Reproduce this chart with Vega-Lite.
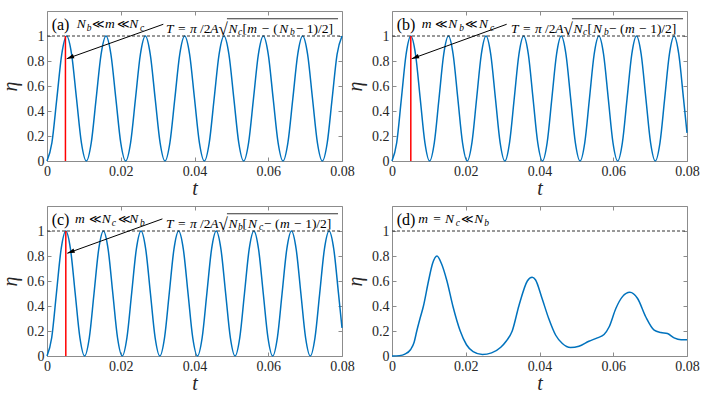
{
  "$schema": "https://vega.github.io/schema/vega-lite/v6.json",
  "padding": {"left": 0, "top": 10, "right": 5, "bottom": 5},
  "background": "white",
  "columns": 2,
  "spacing": {"row": 45, "column": 50},
  "bounds": "flush",
  "datasets": {
    "frame": [{"x": 0, "x2": 0.08, "y": 1}],
    "sinA": [
      {"t":0,"v":0},{"t":0.00133,"v":0.146},{"t":0.00267,"v":0.5},{"t":0.004,"v":0.854},{"t":0.00533,"v":1},{"t":0.00667,"v":0.854},{"t":0.008,"v":0.5},{"t":0.00933,"v":0.146},
      {"t":0.01067,"v":0},{"t":0.012,"v":0.146},{"t":0.01333,"v":0.5},{"t":0.01467,"v":0.854},{"t":0.016,"v":1},{"t":0.01733,"v":0.854},{"t":0.01867,"v":0.5},{"t":0.02,"v":0.146},
      {"t":0.02133,"v":0},{"t":0.02267,"v":0.146},{"t":0.024,"v":0.5},{"t":0.02533,"v":0.854},{"t":0.02667,"v":1},{"t":0.028,"v":0.854},{"t":0.02933,"v":0.5},{"t":0.03067,"v":0.146},
      {"t":0.032,"v":0},{"t":0.03333,"v":0.146},{"t":0.03467,"v":0.5},{"t":0.036,"v":0.854},{"t":0.03733,"v":1},{"t":0.03867,"v":0.854},{"t":0.04,"v":0.5},{"t":0.04133,"v":0.146},
      {"t":0.04267,"v":0},{"t":0.044,"v":0.146},{"t":0.04533,"v":0.5},{"t":0.04667,"v":0.854},{"t":0.048,"v":1},{"t":0.04933,"v":0.854},{"t":0.05067,"v":0.5},{"t":0.052,"v":0.146},
      {"t":0.05333,"v":0},{"t":0.05467,"v":0.146},{"t":0.056,"v":0.5},{"t":0.05733,"v":0.854},{"t":0.05867,"v":1},{"t":0.06,"v":0.854},{"t":0.06133,"v":0.5},{"t":0.06267,"v":0.146},
      {"t":0.064,"v":0},{"t":0.06533,"v":0.146},{"t":0.06667,"v":0.5},{"t":0.068,"v":0.854},{"t":0.06933,"v":1},{"t":0.07067,"v":0.854},{"t":0.072,"v":0.5},{"t":0.07333,"v":0.146},
      {"t":0.07467,"v":0},{"t":0.076,"v":0.146},{"t":0.07733,"v":0.5},{"t":0.07867,"v":0.854},{"t":0.08,"v":1}
    ],
    "sinB": [
      {"t":0,"v":0},{"t":0.001275,"v":0.146},{"t":0.00255,"v":0.5},{"t":0.003825,"v":0.854},{"t":0.0051,"v":1},{"t":0.006375,"v":0.854},{"t":0.00765,"v":0.5},{"t":0.008925,"v":0.146},
      {"t":0.0102,"v":0},{"t":0.011475,"v":0.146},{"t":0.01275,"v":0.5},{"t":0.014025,"v":0.854},{"t":0.0153,"v":1},{"t":0.016575,"v":0.854},{"t":0.01785,"v":0.5},{"t":0.019125,"v":0.146},
      {"t":0.0204,"v":0},{"t":0.021675,"v":0.146},{"t":0.02295,"v":0.5},{"t":0.024225,"v":0.854},{"t":0.0255,"v":1},{"t":0.026775,"v":0.854},{"t":0.02805,"v":0.5},{"t":0.029325,"v":0.146},
      {"t":0.0306,"v":0},{"t":0.031875,"v":0.146},{"t":0.03315,"v":0.5},{"t":0.034425,"v":0.854},{"t":0.0357,"v":1},{"t":0.036975,"v":0.854},{"t":0.03825,"v":0.5},{"t":0.039525,"v":0.146},
      {"t":0.0408,"v":0},{"t":0.042075,"v":0.146},{"t":0.04335,"v":0.5},{"t":0.044625,"v":0.854},{"t":0.0459,"v":1},{"t":0.047175,"v":0.854},{"t":0.04845,"v":0.5},{"t":0.049725,"v":0.146},
      {"t":0.051,"v":0},{"t":0.052275,"v":0.146},{"t":0.05355,"v":0.5},{"t":0.054825,"v":0.854},{"t":0.0561,"v":1},{"t":0.057375,"v":0.854},{"t":0.05865,"v":0.5},{"t":0.059925,"v":0.146},
      {"t":0.0612,"v":0},{"t":0.062475,"v":0.146},{"t":0.06375,"v":0.5},{"t":0.065025,"v":0.854},{"t":0.0663,"v":1},{"t":0.067575,"v":0.854},{"t":0.06885,"v":0.5},{"t":0.070125,"v":0.146},
      {"t":0.0714,"v":0},{"t":0.072675,"v":0.146},{"t":0.07395,"v":0.5},{"t":0.075225,"v":0.854},{"t":0.0765,"v":1},{"t":0.077775,"v":0.854},{"t":0.07905,"v":0.5},{"t":0.08,"v":0.225}
    ],
    "curveD": [
      {"t":0,"v":0},{"t":0.002,"v":0.003},{"t":0.0035,"v":0.015},{"t":0.005,"v":0.05},{"t":0.006,"v":0.11},{"t":0.00672,"v":0.2},{"t":0.0076,"v":0.3},{"t":0.00853,"v":0.4},
      {"t":0.0099,"v":0.6},{"t":0.011,"v":0.74},{"t":0.0122,"v":0.8},{"t":0.0134,"v":0.74},{"t":0.0149,"v":0.6},{"t":0.0165,"v":0.4},{"t":0.0185,"v":0.2},{"t":0.0202,"v":0.09},
      {"t":0.022,"v":0.035},{"t":0.0245,"v":0.012},{"t":0.027,"v":0.025},{"t":0.0295,"v":0.07},{"t":0.031,"v":0.12},{"t":0.0326,"v":0.2},{"t":0.0344,"v":0.4},{"t":0.0367,"v":0.6},
      {"t":0.038,"v":0.63},{"t":0.0389,"v":0.61},{"t":0.0407,"v":0.46},{"t":0.0425,"v":0.3},{"t":0.0444,"v":0.166},{"t":0.0462,"v":0.1},{"t":0.0484,"v":0.068},{"t":0.0507,"v":0.078},
      {"t":0.0534,"v":0.118},{"t":0.0557,"v":0.145},{"t":0.0575,"v":0.172},{"t":0.0589,"v":0.234},{"t":0.0607,"v":0.38},{"t":0.0625,"v":0.475},{"t":0.0645,"v":0.51},{"t":0.0666,"v":0.46},
      {"t":0.0688,"v":0.314},{"t":0.0711,"v":0.207},{"t":0.0729,"v":0.188},{"t":0.0747,"v":0.18},{"t":0.0765,"v":0.145},{"t":0.0784,"v":0.13},{"t":0.08,"v":0.13}
    ]
  },
  "concat": [
    {
      "width": 295, "height": 150,
      "resolve": {"axis": {"x": "independent", "y": "independent"}},
      "layer": [
        {"data": {"name": "sinA"}, "mark": {"type": "line", "color": "#0072BD", "strokeWidth": 1.5, "interpolate": "monotone"},
         "encoding": {
           "x": {"field": "t", "type": "quantitative", "scale": {"domain": [0, 0.08], "nice": false, "zero": false}, "axis": {"orient": "bottom", "title": "t", "values": [0, 0.02, 0.04, 0.06, 0.08], "format": "~g", "titlePadding": 0}},
           "y": {"field": "v", "type": "quantitative", "scale": {"domain": [0, 1.2], "nice": false}, "axis": {"orient": "left", "title": "η", "values": [0, 0.2, 0.4, 0.6, 0.8, 1], "format": "~g", "titlePadding": 6}}}},
        {"data": {"name": "frame"}, "mark": {"type": "rule", "color": "#333333", "strokeDash": [3, 2], "strokeWidth": 1},
         "encoding": {
           "x": {"field": "x", "type": "quantitative", "axis": {"orient": "top", "labels": false, "title": null, "values": [0, 0.02, 0.04, 0.06, 0.08]}},
           "x2": {"field": "x2"},
           "y": {"field": "y", "type": "quantitative", "axis": {"orient": "right", "labels": false, "title": null, "values": [0, 0.2, 0.4, 0.6, 0.8, 1]}}}},
        {"data": {"values": [{"x": 0.005, "y": 0, "y2": 1}]}, "mark": {"type": "rule", "color": "#ff0000", "strokeWidth": 1.5},
         "encoding": {"x": {"field": "x", "type": "quantitative", "axis": null}, "y": {"field": "y", "type": "quantitative", "axis": null}, "y2": {"field": "y2"}}},
        {"data": {"values": [{"x": 0.03154, "y": 1.094, "x2": 0.00534, "y2": 0.818}]}, "mark": {"type": "rule", "color": "#000000", "strokeWidth": 1},
         "encoding": {"x": {"field": "x", "type": "quantitative", "axis": null}, "y": {"field": "y", "type": "quantitative", "axis": null}, "x2": {"field": "x2"}, "y2": {"field": "y2"}}},
        {"data": {"values": [{"x": 0.00534, "y": 0.818}]}, "mark": {"type": "point", "shape": "M0,0L-0.3,1L0.3,1Z", "filled": true, "color": "#000000", "opacity": 1, "size": 220, "angle": 250},
         "encoding": {"x": {"field": "x", "type": "quantitative", "axis": null}, "y": {"field": "y", "type": "quantitative", "axis": null}}},
        {"data": {"values": [{"x": 0.0488, "x2": 0.07892, "y": 1.138}]}, "mark": {"type": "rule", "color": "#000000", "strokeWidth": 0.8},
         "encoding": {"x": {"field": "x", "type": "quantitative", "axis": null}, "y": {"field": "y", "type": "quantitative", "axis": null}, "x2": {"field": "x2"}}},
        {"data": {"values": [{"x": 0.00127, "y": 1.048, "s": "(a)"}]}, "mark": {"type": "text", "align": "left", "baseline": "alphabetic", "font": "Liberation Serif, Times New Roman, serif", "fontSize": 16, "color": "#000000"},
         "encoding": {"x": {"field": "x", "type": "quantitative", "axis": null}, "y": {"field": "y", "type": "quantitative", "axis": null}, "text": {"field": "s"}}},
        {"data": {"values": [
           {"x": 0.00805, "y": 1.064, "s": "N"}, {"x": 0.01573, "y": 1.064, "s": "m"}, {"x": 0.02232, "y": 1.064, "s": "N"},
           {"x": 0.03227, "y": 1.026, "s": "T"}, {"x": 0.03878, "y": 1.026, "s": "π"}, {"x": 0.0443, "y": 1.026, "s": "A"},
           {"x": 0.0492, "y": 1.026, "s": "N"}, {"x": 0.05432, "y": 1.026, "s": "m"}, {"x": 0.063, "y": 1.026, "s": "N"}]},
         "mark": {"type": "text", "align": "left", "baseline": "alphabetic", "font": "Liberation Serif, Times New Roman, serif", "fontStyle": "italic", "fontSize": 13.5, "color": "#000000"},
         "encoding": {"x": {"field": "x", "type": "quantitative", "axis": null}, "y": {"field": "y", "type": "quantitative", "axis": null}, "text": {"field": "s"}}},
        {"data": {"values": [
           {"x": 0.03553, "y": 1.026, "s": "="}, {"x": 0.04149, "y": 1.026, "s": "/2"}, {"x": 0.053, "y": 1.026, "s": "["},
           {"x": 0.05822, "y": 1.026, "s": "−"}, {"x": 0.06137, "y": 1.026, "s": "("}, {"x": 0.06753, "y": 1.026, "s": "−"}, {"x": 0.07043, "y": 1.026, "s": "1)/2]"}]},
         "mark": {"type": "text", "align": "left", "baseline": "alphabetic", "font": "Liberation Serif, Times New Roman, serif", "fontSize": 13.5, "color": "#000000"},
         "encoding": {"x": {"field": "x", "type": "quantitative", "axis": null}, "y": {"field": "y", "type": "quantitative", "axis": null}, "text": {"field": "s"}}},
        {"data": {"values": [{"x": 0.01222, "y": 1.064, "s": "≪"}, {"x": 0.019, "y": 1.064, "s": "≪"}]},
         "mark": {"type": "text", "align": "left", "baseline": "alphabetic", "font": "Liberation Serif, DejaVu Serif, serif", "fontSize": 12, "color": "#000000"},
         "encoding": {"x": {"field": "x", "type": "quantitative", "axis": null}, "y": {"field": "y", "type": "quantitative", "axis": null}, "text": {"field": "s"}}},
        {"data": {"values": [
           {"x": 0.01077, "y": 1.044, "s": "b"}, {"x": 0.02522, "y": 1.044, "s": "c"},
           {"x": 0.0518, "y": 1.008, "s": "c"}, {"x": 0.0659, "y": 1.008, "s": "b"}]},
         "mark": {"type": "text", "align": "left", "baseline": "alphabetic", "font": "Liberation Serif, Times New Roman, serif", "fontStyle": "italic", "fontSize": 9.5, "color": "#000000"},
         "encoding": {"x": {"field": "x", "type": "quantitative", "axis": null}, "y": {"field": "y", "type": "quantitative", "axis": null}, "text": {"field": "s"}}},
        {"data": {"values": [{"x": 0.0465, "y": 1.012, "s": "√"}]},
         "mark": {"type": "text", "align": "left", "baseline": "alphabetic", "font": "Liberation Serif, Times New Roman, serif", "fontSize": 17, "color": "#000000"},
         "encoding": {"x": {"field": "x", "type": "quantitative", "axis": null}, "y": {"field": "y", "type": "quantitative", "axis": null}, "text": {"field": "s"}}}
      ]
    },
    {
      "width": 295, "height": 150,
      "resolve": {"axis": {"x": "independent", "y": "independent"}},
      "layer": [
        {"data": {"name": "sinB"}, "mark": {"type": "line", "color": "#0072BD", "strokeWidth": 1.5, "interpolate": "monotone"},
         "encoding": {
           "x": {"field": "t", "type": "quantitative", "scale": {"domain": [0, 0.08], "nice": false, "zero": false}, "axis": {"orient": "bottom", "title": "t", "values": [0, 0.02, 0.04, 0.06, 0.08], "format": "~g", "titlePadding": 0}},
           "y": {"field": "v", "type": "quantitative", "scale": {"domain": [0, 1.2], "nice": false}, "axis": {"orient": "left", "title": "η", "values": [0, 0.2, 0.4, 0.6, 0.8, 1], "format": "~g", "titlePadding": 6}}}},
        {"data": {"name": "frame"}, "mark": {"type": "rule", "color": "#333333", "strokeDash": [3, 2], "strokeWidth": 1},
         "encoding": {
           "x": {"field": "x", "type": "quantitative", "axis": {"orient": "top", "labels": false, "title": null, "values": [0, 0.02, 0.04, 0.06, 0.08]}},
           "x2": {"field": "x2"},
           "y": {"field": "y", "type": "quantitative", "axis": {"orient": "right", "labels": false, "title": null, "values": [0, 0.2, 0.4, 0.6, 0.8, 1]}}}},
        {"data": {"values": [{"x": 0.0051, "y": 0, "y2": 1}]}, "mark": {"type": "rule", "color": "#ff0000", "strokeWidth": 1.5},
         "encoding": {"x": {"field": "x", "type": "quantitative", "axis": null}, "y": {"field": "y", "type": "quantitative", "axis": null}, "y2": {"field": "y2"}}},
        {"data": {"values": [{"x": 0.0311, "y": 1.094, "x2": 0.00534, "y2": 0.818}]}, "mark": {"type": "rule", "color": "#000000", "strokeWidth": 1},
         "encoding": {"x": {"field": "x", "type": "quantitative", "axis": null}, "y": {"field": "y", "type": "quantitative", "axis": null}, "x2": {"field": "x2"}, "y2": {"field": "y2"}}},
        {"data": {"values": [{"x": 0.00534, "y": 0.818}]}, "mark": {"type": "point", "shape": "M0,0L-0.3,1L0.3,1Z", "filled": true, "color": "#000000", "opacity": 1, "size": 220, "angle": 250},
         "encoding": {"x": {"field": "x", "type": "quantitative", "axis": null}, "y": {"field": "y", "type": "quantitative", "axis": null}}},
        {"data": {"values": [{"x": 0.0488, "x2": 0.07892, "y": 1.138}]}, "mark": {"type": "rule", "color": "#000000", "strokeWidth": 0.8},
         "encoding": {"x": {"field": "x", "type": "quantitative", "axis": null}, "y": {"field": "y", "type": "quantitative", "axis": null}, "x2": {"field": "x2"}}},
        {"data": {"values": [{"x": 0.00127, "y": 1.048, "s": "(b)"}]}, "mark": {"type": "text", "align": "left", "baseline": "alphabetic", "font": "Liberation Serif, Times New Roman, serif", "fontSize": 16, "color": "#000000"},
         "encoding": {"x": {"field": "x", "type": "quantitative", "axis": null}, "y": {"field": "y", "type": "quantitative", "axis": null}, "text": {"field": "s"}}},
        {"data": {"values": [
           {"x": 0.00805, "y": 1.064, "s": "m"}, {"x": 0.01527, "y": 1.064, "s": "N"}, {"x": 0.02359, "y": 1.064, "s": "N"},
           {"x": 0.03227, "y": 1.026, "s": "T"}, {"x": 0.03878, "y": 1.026, "s": "π"}, {"x": 0.0443, "y": 1.026, "s": "A"},
           {"x": 0.0492, "y": 1.026, "s": "N"}, {"x": 0.05452, "y": 1.026, "s": "N"}, {"x": 0.06319, "y": 1.026, "s": "m"}]},
         "mark": {"type": "text", "align": "left", "baseline": "alphabetic", "font": "Liberation Serif, Times New Roman, serif", "fontStyle": "italic", "fontSize": 13.5, "color": "#000000"},
         "encoding": {"x": {"field": "x", "type": "quantitative", "axis": null}, "y": {"field": "y", "type": "quantitative", "axis": null}, "text": {"field": "s"}}},
        {"data": {"values": [
           {"x": 0.03553, "y": 1.026, "s": "="}, {"x": 0.04149, "y": 1.026, "s": "/2"}, {"x": 0.053, "y": 1.026, "s": "["},
           {"x": 0.05885, "y": 1.026, "s": "−"}, {"x": 0.06183, "y": 1.026, "s": "("}, {"x": 0.06698, "y": 1.026, "s": "−"}, {"x": 0.07, "y": 1.026, "s": "1)/2]"}]},
         "mark": {"type": "text", "align": "left", "baseline": "alphabetic", "font": "Liberation Serif, Times New Roman, serif", "fontSize": 13.5, "color": "#000000"},
         "encoding": {"x": {"field": "x", "type": "quantitative", "axis": null}, "y": {"field": "y", "type": "quantitative", "axis": null}, "text": {"field": "s"}}},
        {"data": {"values": [{"x": 0.01176, "y": 1.064, "s": "≪"}, {"x": 0.0199, "y": 1.064, "s": "≪"}]},
         "mark": {"type": "text", "align": "left", "baseline": "alphabetic", "font": "Liberation Serif, DejaVu Serif, serif", "fontSize": 12, "color": "#000000"},
         "encoding": {"x": {"field": "x", "type": "quantitative", "axis": null}, "y": {"field": "y", "type": "quantitative", "axis": null}, "text": {"field": "s"}}},
        {"data": {"values": [
           {"x": 0.01825, "y": 1.044, "s": "b"}, {"x": 0.02658, "y": 1.044, "s": "c"},
           {"x": 0.0518, "y": 1.008, "s": "c"}, {"x": 0.0575, "y": 1.008, "s": "b"}]},
         "mark": {"type": "text", "align": "left", "baseline": "alphabetic", "font": "Liberation Serif, Times New Roman, serif", "fontStyle": "italic", "fontSize": 9.5, "color": "#000000"},
         "encoding": {"x": {"field": "x", "type": "quantitative", "axis": null}, "y": {"field": "y", "type": "quantitative", "axis": null}, "text": {"field": "s"}}},
        {"data": {"values": [{"x": 0.0465, "y": 1.012, "s": "√"}]},
         "mark": {"type": "text", "align": "left", "baseline": "alphabetic", "font": "Liberation Serif, Times New Roman, serif", "fontSize": 17, "color": "#000000"},
         "encoding": {"x": {"field": "x", "type": "quantitative", "axis": null}, "y": {"field": "y", "type": "quantitative", "axis": null}, "text": {"field": "s"}}}
      ]
    },
    {
      "width": 295, "height": 150,
      "resolve": {"axis": {"x": "independent", "y": "independent"}},
      "layer": [
        {"data": {"name": "sinB"}, "mark": {"type": "line", "color": "#0072BD", "strokeWidth": 1.5, "interpolate": "monotone"},
         "encoding": {
           "x": {"field": "t", "type": "quantitative", "scale": {"domain": [0, 0.08], "nice": false, "zero": false}, "axis": {"orient": "bottom", "title": "t", "values": [0, 0.02, 0.04, 0.06, 0.08], "format": "~g", "titlePadding": 0}},
           "y": {"field": "v", "type": "quantitative", "scale": {"domain": [0, 1.2], "nice": false}, "axis": {"orient": "left", "title": "η", "values": [0, 0.2, 0.4, 0.6, 0.8, 1], "format": "~g", "titlePadding": 6}}}},
        {"data": {"name": "frame"}, "mark": {"type": "rule", "color": "#333333", "strokeDash": [3, 2], "strokeWidth": 1},
         "encoding": {
           "x": {"field": "x", "type": "quantitative", "axis": {"orient": "top", "labels": false, "title": null, "values": [0, 0.02, 0.04, 0.06, 0.08]}},
           "x2": {"field": "x2"},
           "y": {"field": "y", "type": "quantitative", "axis": {"orient": "right", "labels": false, "title": null, "values": [0, 0.2, 0.4, 0.6, 0.8, 1]}}}},
        {"data": {"values": [{"x": 0.0051, "y": 0, "y2": 1}]}, "mark": {"type": "rule", "color": "#ff0000", "strokeWidth": 1.5},
         "encoding": {"x": {"field": "x", "type": "quantitative", "axis": null}, "y": {"field": "y", "type": "quantitative", "axis": null}, "y2": {"field": "y2"}}},
        {"data": {"values": [{"x": 0.0313, "y": 1.097, "x2": 0.0055, "y2": 0.822}]}, "mark": {"type": "rule", "color": "#000000", "strokeWidth": 1},
         "encoding": {"x": {"field": "x", "type": "quantitative", "axis": null}, "y": {"field": "y", "type": "quantitative", "axis": null}, "x2": {"field": "x2"}, "y2": {"field": "y2"}}},
        {"data": {"values": [{"x": 0.0055, "y": 0.822}]}, "mark": {"type": "point", "shape": "M0,0L-0.3,1L0.3,1Z", "filled": true, "color": "#000000", "opacity": 1, "size": 220, "angle": 250},
         "encoding": {"x": {"field": "x", "type": "quantitative", "axis": null}, "y": {"field": "y", "type": "quantitative", "axis": null}}},
        {"data": {"values": [{"x": 0.0488, "x2": 0.07892, "y": 1.138}]}, "mark": {"type": "rule", "color": "#000000", "strokeWidth": 0.8},
         "encoding": {"x": {"field": "x", "type": "quantitative", "axis": null}, "y": {"field": "y", "type": "quantitative", "axis": null}, "x2": {"field": "x2"}}},
        {"data": {"values": [{"x": 0.00127, "y": 1.048, "s": "(c)"}]}, "mark": {"type": "text", "align": "left", "baseline": "alphabetic", "font": "Liberation Serif, Times New Roman, serif", "fontSize": 16, "color": "#000000"},
         "encoding": {"x": {"field": "x", "type": "quantitative", "axis": null}, "y": {"field": "y", "type": "quantitative", "axis": null}, "text": {"field": "s"}}},
        {"data": {"values": [
           {"x": 0.00759, "y": 1.064, "s": "m"}, {"x": 0.01483, "y": 1.064, "s": "N"}, {"x": 0.02232, "y": 1.064, "s": "N"},
           {"x": 0.03227, "y": 1.026, "s": "T"}, {"x": 0.03878, "y": 1.026, "s": "π"}, {"x": 0.0443, "y": 1.026, "s": "A"},
           {"x": 0.0492, "y": 1.026, "s": "N"}, {"x": 0.05452, "y": 1.026, "s": "N"}, {"x": 0.06319, "y": 1.026, "s": "m"}]},
         "mark": {"type": "text", "align": "left", "baseline": "alphabetic", "font": "Liberation Serif, Times New Roman, serif", "fontStyle": "italic", "fontSize": 13.5, "color": "#000000"},
         "encoding": {"x": {"field": "x", "type": "quantitative", "axis": null}, "y": {"field": "y", "type": "quantitative", "axis": null}, "text": {"field": "s"}}},
        {"data": {"values": [
           {"x": 0.03553, "y": 1.026, "s": "="}, {"x": 0.04149, "y": 1.026, "s": "/2"}, {"x": 0.053, "y": 1.026, "s": "["},
           {"x": 0.05885, "y": 1.026, "s": "−"}, {"x": 0.06183, "y": 1.026, "s": "("}, {"x": 0.06698, "y": 1.026, "s": "−"}, {"x": 0.07, "y": 1.026, "s": "1)/2]"}]},
         "mark": {"type": "text", "align": "left", "baseline": "alphabetic", "font": "Liberation Serif, Times New Roman, serif", "fontSize": 13.5, "color": "#000000"},
         "encoding": {"x": {"field": "x", "type": "quantitative", "axis": null}, "y": {"field": "y", "type": "quantitative", "axis": null}, "text": {"field": "s"}}},
        {"data": {"values": [{"x": 0.0113, "y": 1.064, "s": "≪"}, {"x": 0.01917, "y": 1.064, "s": "≪"}]},
         "mark": {"type": "text", "align": "left", "baseline": "alphabetic", "font": "Liberation Serif, DejaVu Serif, serif", "fontSize": 12, "color": "#000000"},
         "encoding": {"x": {"field": "x", "type": "quantitative", "axis": null}, "y": {"field": "y", "type": "quantitative", "axis": null}, "text": {"field": "s"}}},
        {"data": {"values": [
           {"x": 0.01754, "y": 1.044, "s": "c"}, {"x": 0.02522, "y": 1.044, "s": "b"},
           {"x": 0.0518, "y": 1.008, "s": "b"}, {"x": 0.0575, "y": 1.008, "s": "c"}]},
         "mark": {"type": "text", "align": "left", "baseline": "alphabetic", "font": "Liberation Serif, Times New Roman, serif", "fontStyle": "italic", "fontSize": 9.5, "color": "#000000"},
         "encoding": {"x": {"field": "x", "type": "quantitative", "axis": null}, "y": {"field": "y", "type": "quantitative", "axis": null}, "text": {"field": "s"}}},
        {"data": {"values": [{"x": 0.0465, "y": 1.012, "s": "√"}]},
         "mark": {"type": "text", "align": "left", "baseline": "alphabetic", "font": "Liberation Serif, Times New Roman, serif", "fontSize": 17, "color": "#000000"},
         "encoding": {"x": {"field": "x", "type": "quantitative", "axis": null}, "y": {"field": "y", "type": "quantitative", "axis": null}, "text": {"field": "s"}}}
      ]
    },
    {
      "width": 295, "height": 150,
      "resolve": {"axis": {"x": "independent", "y": "independent"}},
      "layer": [
        {"data": {"name": "curveD"}, "mark": {"type": "line", "color": "#0072BD", "strokeWidth": 1.5, "interpolate": "monotone"},
         "encoding": {
           "x": {"field": "t", "type": "quantitative", "scale": {"domain": [0, 0.08], "nice": false, "zero": false}, "axis": {"orient": "bottom", "title": "t", "values": [0, 0.02, 0.04, 0.06, 0.08], "format": "~g", "titlePadding": 0}},
           "y": {"field": "v", "type": "quantitative", "scale": {"domain": [0, 1.2], "nice": false}, "axis": {"orient": "left", "title": "η", "values": [0, 0.2, 0.4, 0.6, 0.8, 1], "format": "~g", "titlePadding": 6}}}},
        {"data": {"name": "frame"}, "mark": {"type": "rule", "color": "#333333", "strokeDash": [3, 2], "strokeWidth": 1},
         "encoding": {
           "x": {"field": "x", "type": "quantitative", "axis": {"orient": "top", "labels": false, "title": null, "values": [0, 0.02, 0.04, 0.06, 0.08]}},
           "x2": {"field": "x2"},
           "y": {"field": "y", "type": "quantitative", "axis": {"orient": "right", "labels": false, "title": null, "values": [0, 0.2, 0.4, 0.6, 0.8, 1]}}}},
        {"data": {"values": [{"x": 0.00127, "y": 1.048, "s": "(d)"}]}, "mark": {"type": "text", "align": "left", "baseline": "alphabetic", "font": "Liberation Serif, Times New Roman, serif", "fontSize": 16, "color": "#000000"},
         "encoding": {"x": {"field": "x", "type": "quantitative", "axis": null}, "y": {"field": "y", "type": "quantitative", "axis": null}, "text": {"field": "s"}}},
        {"data": {"values": [
           {"x": 0.00713, "y": 1.064, "s": "m"}, {"x": 0.01437, "y": 1.064, "s": "N"}, {"x": 0.02232, "y": 1.064, "s": "N"}]},
         "mark": {"type": "text", "align": "left", "baseline": "alphabetic", "font": "Liberation Serif, Times New Roman, serif", "fontStyle": "italic", "fontSize": 13.5, "color": "#000000"},
         "encoding": {"x": {"field": "x", "type": "quantitative", "axis": null}, "y": {"field": "y", "type": "quantitative", "axis": null}, "text": {"field": "s"}}},
        {"data": {"values": [{"x": 0.0112, "y": 1.064, "s": "="}]},
         "mark": {"type": "text", "align": "left", "baseline": "alphabetic", "font": "Liberation Serif, Times New Roman, serif", "fontSize": 13.5, "color": "#000000"},
         "encoding": {"x": {"field": "x", "type": "quantitative", "axis": null}, "y": {"field": "y", "type": "quantitative", "axis": null}, "text": {"field": "s"}}},
        {"data": {"values": [{"x": 0.01881, "y": 1.064, "s": "≪"}]},
         "mark": {"type": "text", "align": "left", "baseline": "alphabetic", "font": "Liberation Serif, DejaVu Serif, serif", "fontSize": 12, "color": "#000000"},
         "encoding": {"x": {"field": "x", "type": "quantitative", "axis": null}, "y": {"field": "y", "type": "quantitative", "axis": null}, "text": {"field": "s"}}},
        {"data": {"values": [
           {"x": 0.01727, "y": 1.044, "s": "c"}, {"x": 0.02503, "y": 1.044, "s": "b"}]},
         "mark": {"type": "text", "align": "left", "baseline": "alphabetic", "font": "Liberation Serif, Times New Roman, serif", "fontStyle": "italic", "fontSize": 9.5, "color": "#000000"},
         "encoding": {"x": {"field": "x", "type": "quantitative", "axis": null}, "y": {"field": "y", "type": "quantitative", "axis": null}, "text": {"field": "s"}}}
      ]
    }
  ],
  "config": {
    "view": {"stroke": null},
    "axis": {
      "grid": false,
      "labelFont": "Liberation Serif, Times New Roman, serif", "labelFontSize": 14, "labelColor": "#262626",
      "titleFont": "Liberation Serif, Times New Roman, serif", "titleFontSize": 20, "titleFontStyle": "italic", "titleFontWeight": "normal", "titleColor": "#262626",
      "domainColor": "#8c8c8c", "domainWidth": 1, "tickColor": "#8c8c8c", "tickWidth": 1, "tickSize": -4,
      "labelFlush": false, "labelPadding": 7, "labelBound": false, "labelOverlap": false
    }
  }
}
